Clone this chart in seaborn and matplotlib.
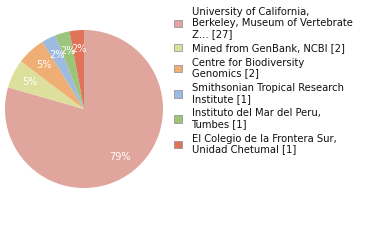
import math
import matplotlib
matplotlib.use("Agg")
import matplotlib.pyplot as plt
import seaborn as sns
from matplotlib.patches import Patch

labels = [
    "University of California,\nBerkeley, Museum of Vertebrate\nZ... [27]",
    "Mined from GenBank, NCBI [2]",
    "Centre for Biodiversity\nGenomics [2]",
    "Smithsonian Tropical Research\nInstitute [1]",
    "Instituto del Mar del Peru,\nTumbes [1]",
    "El Colegio de la Frontera Sur,\nUnidad Chetumal [1]",
]
counts = [27, 2, 2, 1, 1, 1]
colors = ["#E0A59D", "#DCE09C", "#EFAE74", "#9DBAE0", "#9CC57B", "#E07458"]

sns.set_theme(style="white")
plt.rcParams["font.family"] = ["DejaVu Sans"]

fig = plt.figure(figsize=(3.8, 2.4), dpi=100)
ax = fig.add_axes([5 / 380, 52 / 240, 158 / 380, 158 / 240])

wedges, texts, autotexts = ax.pie(
    counts,
    colors=colors,
    startangle=90,
    counterclock=False,
    autopct=lambda p: f"{int(math.floor(p))}%",
    pctdistance=0.76,
    textprops=dict(color="white", fontsize=7),
    wedgeprops=dict(linewidth=0),
)
ax.set_xlim(-1, 1)
ax.set_ylim(-1, 1)
ax.set_aspect("equal")

handles = [Patch(facecolor=c, edgecolor="#999999", linewidth=0.6) for c in colors]
leg = fig.legend(
    handles, labels,
    loc="upper left",
    bbox_to_anchor=(174 / 380, 1 - 7 / 240),
    frameon=False,
    fontsize=7.2,
    handlelength=0.8,
    handleheight=0.8,
    handletextpad=0.95,
    labelspacing=0.45,
    borderpad=0,
    borderaxespad=0,
)
for t in leg.get_texts():
    t.set_color("#111111")
    t.set_linespacing(1.1)

fig.savefig("out.png", dpi=100)
